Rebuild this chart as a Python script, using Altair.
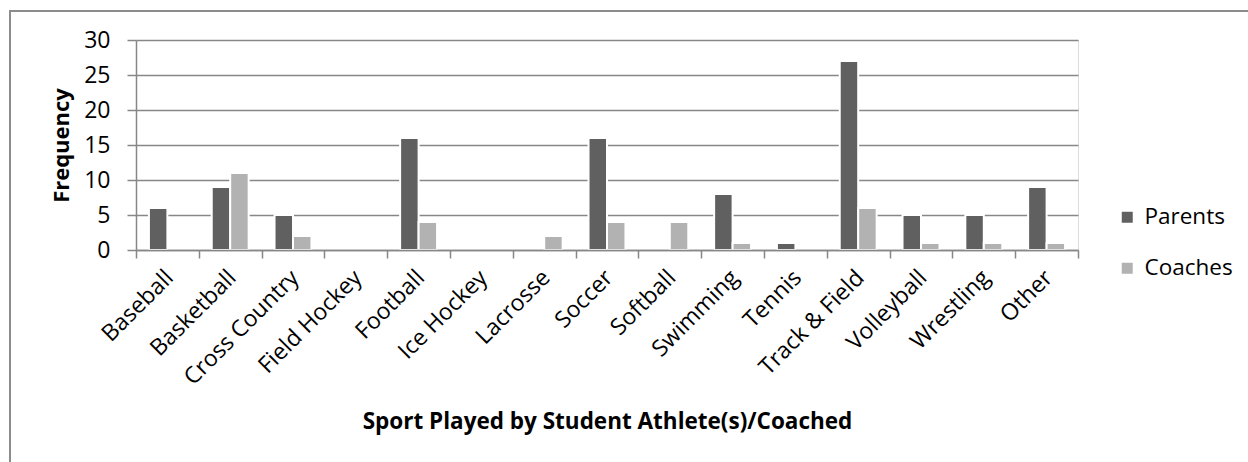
import altair as alt
import pandas as pd

# Survey counts by sport
sports = [
    "Baseball", "Basketball", "Cross Country", "Field Hockey", "Football",
    "Ice Hockey", "Lacrosse", "Soccer", "Softball", "Swimming", "Tennis",
    "Track & Field", "Volleyball", "Wrestling", "Other",
]
parents = [6, 9, 5, 0, 16, 0, 0, 16, 0, 8, 1, 27, 5, 5, 9]
coaches = [0, 11, 2, 0, 4, 0, 2, 4, 4, 1, 0, 6, 1, 1, 1]
groups = ["Parents", "Coaches"]
y_ticks = [0, 5, 10, 15, 20, 25, 30]

rows = []
for s, p, c in zip(sports, parents, coaches):
    rows.append({"sport": s, "group": "Parents", "count": p})
    rows.append({"sport": s, "group": "Coaches", "count": c})
df = pd.DataFrame(rows)
df = df[df["count"] > 0]

FONT = "Open Sans"
GRID = "#878787"
PLOT_W, PLOT_H = 942, 210

bars = alt.Chart(df).mark_bar(stroke="white", strokeWidth=2).encode(
    x=alt.X(
        "sport:N",
        sort=sports,
        scale=alt.Scale(domain=sports, paddingInner=0, paddingOuter=0),
        axis=alt.Axis(
            title="Sport Played by Student Athlete(s)/Coached",
            titleFont=FONT, titleFontSize=22.5, titleFontWeight="bold",
            titleColor="black", titleBaseline="alphabetic",
            titleY=178,
            labelFont=FONT, labelFontSize=23, labelColor="black",
            labelAngle=-45, labelAlign="right", labelBaseline="top",
            labelPadding=8, labelOffset=-6,
            tickBand="extent", tickSize=8, tickColor=GRID, tickWidth=1.5,
            domainColor=GRID, domainWidth=1.5,
            grid=False, zindex=1,
        ),
    ),
    xOffset=alt.XOffset(
        "group:N",
        sort=groups,
        scale=alt.Scale(domain=groups, paddingInner=0, paddingOuter=0.7),
    ),
    y=alt.Y(
        "count:Q",
        scale=alt.Scale(domain=[0, 30], nice=False),
        axis=alt.Axis(
            title="Frequency",
            values=y_ticks,
            titleFont=FONT, titleFontSize=22, titleFontWeight="bold",
            titleColor="black", titleAngle=-90, titleAlign="center",
            titleBaseline="alphabetic", titleX=-68, titleY=PLOT_H / 2,
            labelFont=FONT, labelFontSize=23, labelColor="black",
            labelPadding=17, labelBaseline="middle",
            tickSize=9, tickColor=GRID, tickWidth=1.5,
            domainColor=GRID, domainWidth=1.5,
            grid=True, gridColor=GRID, gridWidth=1.5,
        ),
    ),
    color=alt.Color(
        "group:N",
        sort=groups,
        scale=alt.Scale(domain=groups, range=["#606060", "#b2b2b2"]),
        legend=alt.Legend(
            title=None, orient="none", legendX=980, legendY=166,
            symbolType="square", symbolSize=121, symbolStrokeWidth=0,
            labelFont=FONT, labelFontSize=22.5, labelColor="black",
            labelOffset=6, rowPadding=28, padding=0,
        ),
    ),
)

# Chart frame
frame = alt.Chart(pd.DataFrame({"k": [0]})).mark_rect(
    filled=False, stroke="#8c8c8c", strokeWidth=2
).encode(
    x=alt.value(-126), x2=alt.value(1300),
    y=alt.value(-29), y2=alt.value(600),
)

chart = alt.layer(frame, bars).properties(
    width=PLOT_W,
    height=PLOT_H,
    autosize=alt.AutoSizeParams(type="none"),
    padding={"left": 136, "top": 40, "right": 170, "bottom": 212},
).configure_view(stroke=None).configure(background="white")

chart.save("out.html", embed_options={"renderer": "svg", "actions": False})
